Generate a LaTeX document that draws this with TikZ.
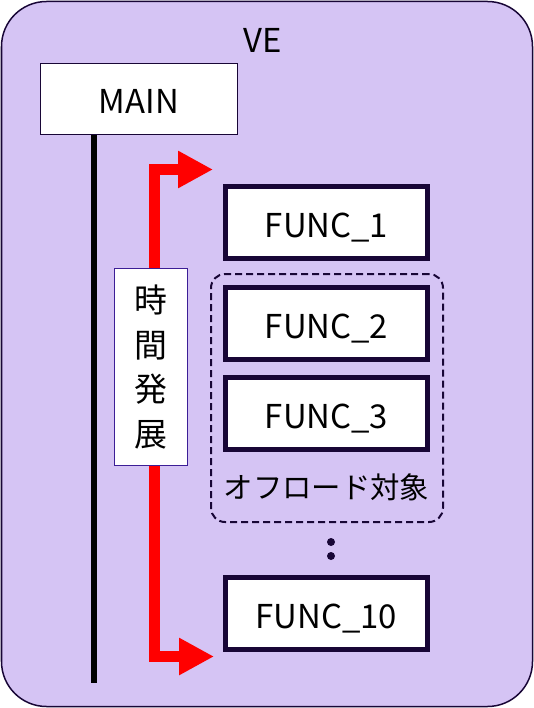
\documentclass[tikz,border=0pt]{standalone}
\usepackage{fontspec}
\setmainfont{Noto Sans CJK JP}
\usetikzlibrary{arrows.meta}
\definecolor{lav}{RGB}{213,196,244}
\definecolor{navy}{RGB}{24,6,54}
\definecolor{lblpurple}{RGB}{60,30,150}
\tikzset{
  captext/.style={text height=30bp, text depth=0pt, font=\fontsize{33}{33}\selectfont},
  funcbox/.style={captext, draw=navy, line width=5bp, fill=white, minimum width=202bp, minimum height=72bp, inner sep=0pt},
  mainbox/.style={captext, draw=navy, line width=1.5bp, fill=white, minimum width=197bp, minimum height=71bp, inner sep=0pt},
  timebox/.style={draw=lblpurple, line width=1.5bp, fill=white, minimum width=73bp, minimum height=197bp, inner sep=0pt, align=center, font=\fontsize{33}{45}\selectfont},
  redarrow/.style={draw=red, line width=11.5bp, line join=miter, {Triangle[length=35bp,width=35bp]}-{Triangle[length=35bp,width=35bp]}},
}
\begin{document}
\begin{tikzpicture}[x=1bp,y=-1bp]
\useasboundingbox (0,0) rectangle (534,708);
\draw[draw=navy, fill=lav, line width=1.5bp, rounded corners=45bp] (1.5,1.5) rectangle (532.5,706.5);
\node[captext, inner sep=0pt] (ve) at (263,37.5) {VE};
\node[mainbox] (main) at (139,99) {MAIN};
\coordinate (mainbot) at (93.5,683);
\draw[line width=6bp, black] (main.south -| mainbot) -- (mainbot);
\coordinate (arrtop) at (213,169.5);
\coordinate (arrbot) at (214,656.5);
\draw[redarrow] (arrtop) -- (154.5,169.5) -- (154.5,656.5) -- (arrbot);
\node[timebox] (time) at (151,367) {時\\間\\発\\展};
\node[draw=navy, line width=2bp, dash pattern=on 7bp off 4bp, rounded corners=14bp, minimum width=232bp, minimum height=248bp] (offload) at (327,398) {};
\node[funcbox] (f1) at (326.5,222.5) {FUNC\_1};
\node[funcbox] (f2) at (326.5,323) {FUNC\_2};
\node[funcbox] (f3) at (326.5,413.5) {FUNC\_3};
\node[funcbox] (f10) at (326.5,613.5) {FUNC\_10};
\node[font=\fontsize{29.5}{29.5}\selectfont] (offtxt) at (326.5,487) {オフロード対象};
\fill[navy] (331,542) circle (4bp) (331,556) circle (4bp);
\end{tikzpicture}
\end{document}
